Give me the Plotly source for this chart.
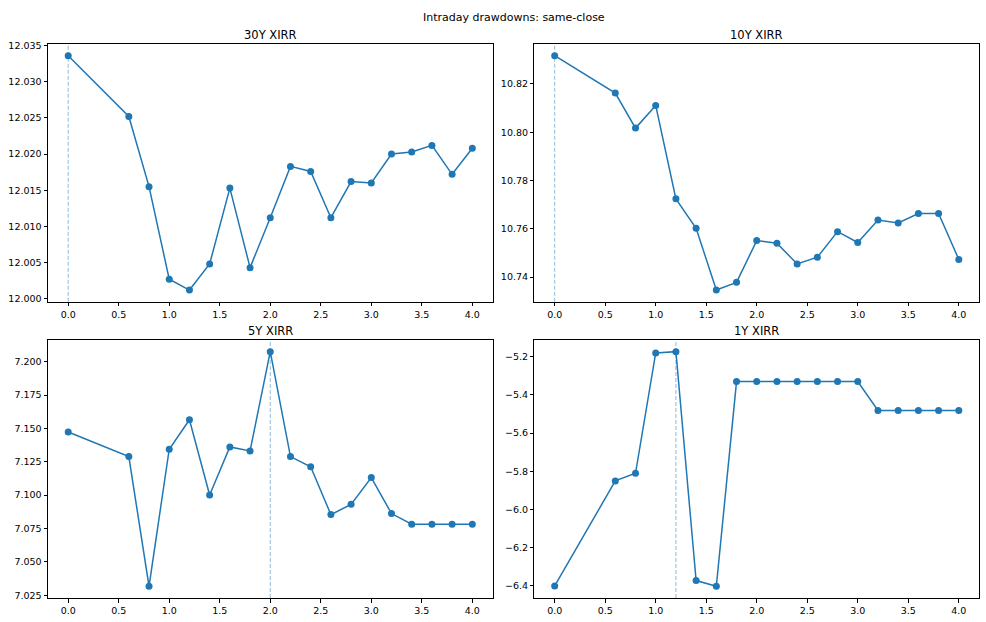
import plotly.graph_objects as go

x_vals = [0.0, 0.6, 0.8, 1.0, 1.2, 1.4, 1.6, 1.8, 2.0, 2.2, 2.4, 2.6, 2.8, 3.0, 3.2, 3.4, 3.6, 3.8, 4.0]

xirr_30y = [12.0336, 12.0252, 12.0155, 12.0027, 12.0012, 12.0048, 12.0153, 12.0043, 12.0112,
            12.0183, 12.0176, 12.0112, 12.0162, 12.0160, 12.0200, 12.0203, 12.0212, 12.0172, 12.0208]
xirr_10y = [10.8317, 10.8162, 10.8017, 10.8111, 10.7724, 10.7602, 10.7346, 10.7378, 10.7551,
            10.7540, 10.7454, 10.7482, 10.7588, 10.7543, 10.7636, 10.7624, 10.7663, 10.7663, 10.7473]
xirr_5y = [7.1473, 7.1289, 7.0317, 7.1344, 7.1565, 7.1001, 7.1361, 7.1331, 7.2075,
           7.1289, 7.1212, 7.0854, 7.0931, 7.1132, 7.0862, 7.0782, 7.0782, 7.0782, 7.0782]
xirr_1y = [-6.400, -5.8504, -5.8104, -5.1809, -5.1740, -6.372, -6.4017, -5.3304, -5.3304,
           -5.3304, -5.3304, -5.3304, -5.3304, -5.3304, -5.4817, -5.4817, -5.4817, -5.4817, -5.4817]

titles = ["30Y XIRR", "10Y XIRR", "5Y XIRR", "1Y XIRR"]
series = [xirr_30y, xirr_10y, xirr_5y, xirr_1y]
vline_x = [0.0, 0.0, 2.0, 1.2]
y_ticks = [
    [12.000, 12.005, 12.010, 12.015, 12.020, 12.025, 12.030, 12.035],
    [10.74, 10.76, 10.78, 10.80, 10.82],
    [7.025, 7.050, 7.075, 7.100, 7.125, 7.150, 7.175, 7.200],
    [-6.4, -6.2, -6.0, -5.8, -5.6, -5.4, -5.2],
]
y_fmt = [".3f", ".2f", ".3f", ".1f"]
x_ticks = [0.0, 0.5, 1.0, 1.5, 2.0, 2.5, 3.0, 3.5, 4.0]

BLUE = "#1f77b4"
FONT = "DejaVu Sans"

# layout geometry (paper fractions)
W, H = 986, 622
ML, MR, MT, MB = 48, 6, 44, 22
PW, PH = W - ML - MR, H - MT - MB
col_dom = [[0.0, 445 / PW], [(535 - ML) / PW, 1.0]]
row_dom = [[1 - (302.7 - MT) / PH, 1.0], [0.0, 1 - (341 - MT) / PH]]

fig = go.Figure()

def rng(vals):
    lo, hi = min(vals), max(vals)
    m = (hi - lo) * 0.05
    return [lo - m, hi + m]

xr = rng(x_vals)
annotations = [dict(text="Intraday drawdowns: same-close", x=0.5, xref="paper",
                    y=1 + (MT - 17) / PH, yref="paper", showarrow=False,
                    font=dict(size=11, family=FONT, color="black"),
                    xanchor="center", yanchor="middle")]
shapes = []

for i, (t, ys) in enumerate(zip(titles, series)):
    r, c = divmod(i, 2)
    n = "" if i == 0 else str(i + 1)
    xa, ya = "x" + n, "y" + n
    fig.add_trace(go.Scatter(x=x_vals, y=ys, mode="lines+markers", xaxis=xa, yaxis=ya,
                             line=dict(color=BLUE, width=1.5),
                             marker=dict(color=BLUE, size=7), showlegend=False))
    axis_common = dict(showline=True, linecolor="black", linewidth=1, mirror=True,
                       ticks="outside", ticklen=3.5, tickwidth=0.8, tickcolor="black",
                       showgrid=False, zeroline=False,
                       tickfont=dict(size=9.5, family=FONT, color="black"))
    fig.update_layout(**{
        "xaxis" + n: dict(domain=col_dom[c], anchor=ya, range=xr, tickvals=x_ticks,
                          tickformat=".1f", **axis_common),
        "yaxis" + n: dict(domain=row_dom[r], anchor=xa, range=rng(ys), tickvals=y_ticks[i],
                          tickformat=y_fmt[i], **axis_common),
    })
    shapes.append(dict(type="line", xref=xa, yref=ya + " domain", x0=vline_x[i], x1=vline_x[i],
                       y0=0, y1=1, line=dict(color="rgba(31,119,180,0.5)", width=1, dash="4px,2px"),
                       layer="below"))
    annotations.append(dict(text=t, x=sum(col_dom[c]) / 2, xref="paper",
                            y=row_dom[r][1], yref="paper", yshift=9, showarrow=False,
                            font=dict(size=11.5, family=FONT, color="black"),
                            xanchor="center", yanchor="middle"))

fig.update_layout(width=W, height=H, margin=dict(l=ML, r=MR, t=MT, b=MB),
                  paper_bgcolor="white", plot_bgcolor="white",
                  annotations=annotations, shapes=shapes,
                  font=dict(family=FONT, color="black"))

fig.write_html("out.html", config={"displayModeBar": False})
